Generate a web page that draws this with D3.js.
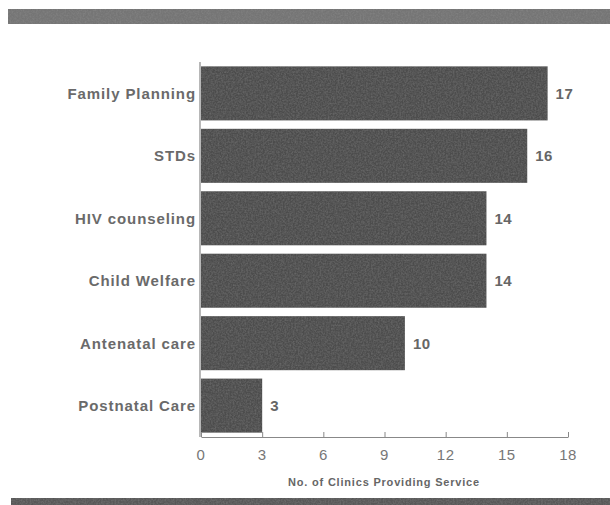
<!DOCTYPE html>
<html>
<head>
<meta charset="utf-8">
<script src="https://cdn.jsdelivr.net/npm/d3@7"></script>
<style>
  body { margin: 0; background: #fff; }
  svg { display: block; font-family: "Liberation Sans", Arial, sans-serif; }
</style>
</head>
<body>
<svg id="chart" width="610" height="505"></svg>
<script>
// services and number of clinics offering them
const services = ["Family Planning", "STDs", "HIV counseling", "Child Welfare", "Antenatal care", "Postnatal Care"];
const clinics = [17, 16, 14, 14, 10, 3];
const xTicks = [0, 3, 6, 9, 12, 15, 18];
const xTitle = "No. of Clinics Providing Service";

const svg = d3.select("#chart");

// grainy photocopy look
const defs = svg.append("defs");
const grain = defs.append("filter").attr("id", "grain")
    .attr("x", 0).attr("y", 0).attr("width", 1).attr("height", 1);
grain.append("feTurbulence")
    .attr("type", "fractalNoise").attr("baseFrequency", 0.6)
    .attr("numOctaves", 2).attr("seed", 4).attr("result", "noise");
grain.append("feColorMatrix").attr("in", "noise").attr("type", "matrix")
    .attr("values", "0 0 0 0 0.45  0 0 0 0 0.45  0 0 0 0 0.45  0 0 0 0.3 -0.1")
    .attr("result", "dots");
grain.append("feComposite").attr("in", "dots").attr("in2", "SourceGraphic")
    .attr("operator", "in").attr("result", "dotsIn");
grain.append("feMerge").selectAll("feMergeNode")
    .data(["SourceGraphic", "dotsIn"]).join("feMergeNode").attr("in", d => d);

// top and bottom rules
svg.append("rect").attr("x", 8).attr("y", 9).attr("width", 602).attr("height", 15)
    .attr("fill", "#747474").attr("filter", "url(#grain)");
svg.append("rect").attr("x", 11).attr("y", 498).attr("width", 599).attr("height", 7)
    .attr("fill", "#595959").attr("filter", "url(#grain)");

const x = d3.scaleLinear().domain([0, 18]).range([201, 568]);
const y = d3.scaleBand().domain(services).range([62, 437]).paddingInner(0.135).paddingOuter(0.07);

// bars
svg.append("g").selectAll("rect")
    .data(services)
    .join("rect")
    .attr("x", x(0))
    .attr("y", d => y(d))
    .attr("width", (d, i) => x(clinics[i]) - x(0))
    .attr("height", y.bandwidth())
    .attr("fill", "#4e4e4e")
    .attr("filter", "url(#grain)");

// value labels
svg.append("g").selectAll("text")
    .data(services)
    .join("text")
    .attr("x", (d, i) => x(clinics[i]) + 8)
    .attr("y", d => y(d) + y.bandwidth() / 2)
    .attr("dy", "0.36em")
    .attr("font-size", 15)
    .attr("font-weight", "bold")
    .attr("letter-spacing", 0.5)
    .attr("fill", "#666")
    .text((d, i) => clinics[i]);

// category labels
svg.append("g").selectAll("text")
    .data(services)
    .join("text")
    .attr("x", 196)
    .attr("y", d => y(d) + y.bandwidth() / 2)
    .attr("dy", "0.36em")
    .attr("text-anchor", "end")
    .attr("font-size", 15)
    .attr("font-weight", "bold")
    .attr("letter-spacing", 0.9)
    .attr("fill", "#6a6a6a")
    .text(d => d);

// left axis line
svg.append("line")
    .attr("x1", 200).attr("x2", 200).attr("y1", 62).attr("y2", 437)
    .attr("stroke", "#888").attr("stroke-width", 1.2);

// bottom axis, ticks pointing up
const xAxis = svg.append("g")
    .attr("transform", "translate(0,437)")
    .call(d3.axisTop(x).tickValues(xTicks).tickSize(5).tickSizeOuter(0));
xAxis.select(".domain").attr("stroke", "#888");
xAxis.selectAll(".tick line").attr("stroke", "#888");
xAxis.selectAll(".tick text").remove();

// tick labels below the axis
svg.append("g").selectAll("text")
    .data(xTicks)
    .join("text")
    .attr("x", d => x(d))
    .attr("y", 455)
    .attr("dy", "0.36em")
    .attr("text-anchor", "middle")
    .attr("font-size", 15)
    .attr("letter-spacing", 0.5)
    .attr("fill", "#777")
    .text(d => d);

svg.append("text")
    .attr("x", 384).attr("y", 482).attr("dy", "0.36em")
    .attr("text-anchor", "middle")
    .attr("font-size", 11)
    .attr("font-weight", "bold")
    .attr("letter-spacing", 0.8)
    .attr("fill", "#666")
    .text(xTitle);
</script>
</body>
</html>
